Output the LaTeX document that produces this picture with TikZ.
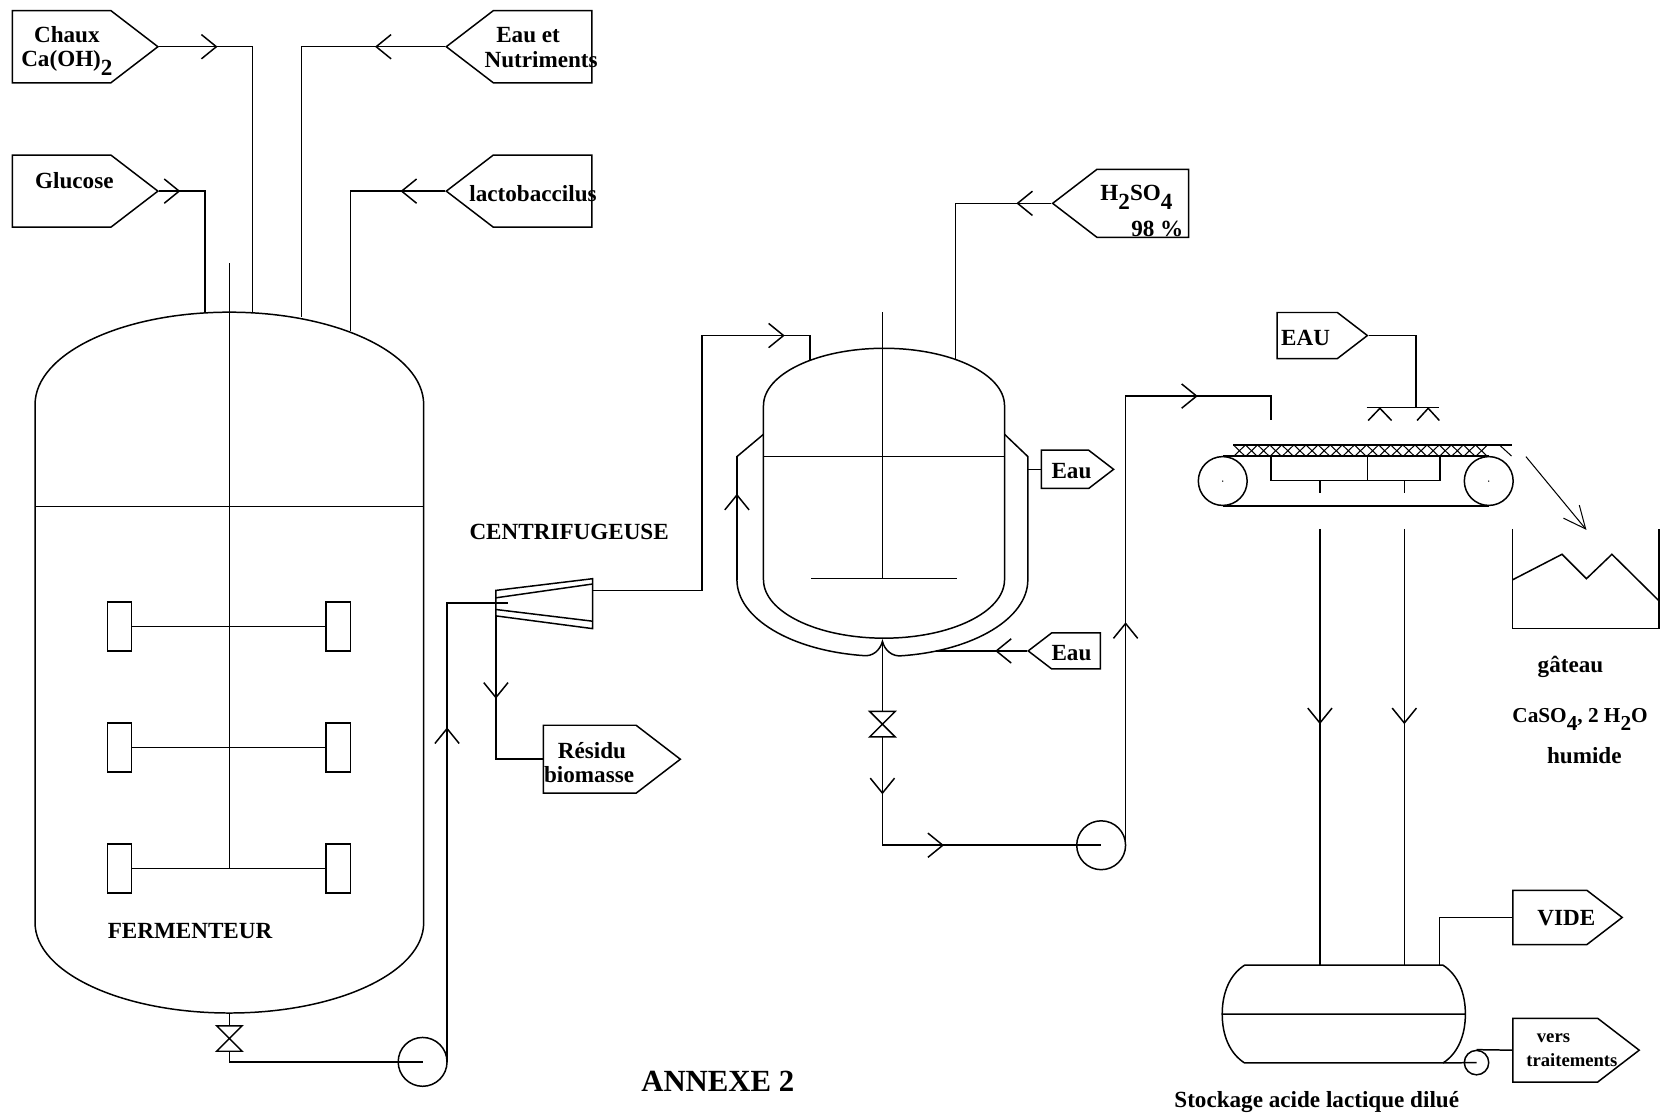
\documentclass[tikz,border=0pt]{standalone}
\usepackage{fontspec}
\setmainfont{Liberation Serif}
\usetikzlibrary{arrows.meta,shapes.symbols,decorations.markings}
\newcommand{\pxu}{0.02cm}
\newcommand{\dn}[1]{\smash{\raisebox{-.38em}{#1}}}
\tikzset{
  pipe/.style={line width=0.8pt},
  thinpipe/.style={line width=0.55pt},
  flowat/.style={decoration={markings,mark=at position #1*\pxu with {\arrow{Straight Barb[length=8pt,width=13pt]}}},postaction={decorate}},
  flowtwo/.style 2 args={decoration={markings,
      mark=at position #1*\pxu with {\arrow{Straight Barb[length=8pt,width=13pt]}},
      mark=at position #2*\pxu with {\arrow{Straight Barb[length=8pt,width=13pt]}}},postaction={decorate}},
  tag/.style 2 args={draw, pipe, shape=signal, signal from=nowhere, signal pointer angle=75,
              inner sep=0pt, minimum width=#1*\pxu, minimum height=#2*\pxu},
  tagout/.style 2 args={tag={#1}{#2}, signal to=east, anchor=west},
  tagin/.style 2 args={tag={#1}{#2}, signal to=west, anchor=east},
  txt/.style={font=\fontsize{12.4}{13.2}\selectfont\bfseries, inner sep=0pt, align=center},
  txtleft/.style={txt, align=left, anchor=west},
  smalltxt/.style={txtleft, font=\fontsize{10}{13}\selectfont\bfseries},
  pump/.style={draw, pipe, circle, inner sep=0pt, minimum size=#1*\pxu},
  valve/.pic={
    \draw[pipe] (-12,-12) -- (12,-12) -- (-12,12) -- (12,12) -- cycle;
    \coordinate (-top) at (0,-12);
    \coordinate (-bot) at (0,12);
  },
}
\begin{document}
\begin{tikzpicture}[x=\pxu,y=-\pxu]
  \useasboundingbox (0,0) rectangle (1568,1053);

  \draw[pipe] (33,869) -- (33,381) arc[start angle=180,end angle=360,x radius=183,y radius=87]
    -- (399,869) arc[start angle=0,end angle=180,x radius=183,y radius=85];
  \draw[pipe] (33,477) -- (399,477);
  \draw[pipe] (216,248) -- (216,818);
  \foreach \y in {590,704,818} {
    \draw[pipe] (101,\y-23) rectangle (124,\y+23);
    \draw[pipe] (307,\y-23) rectangle (330,\y+23);
    \draw[pipe] (124,\y) -- (307,\y);
  }
  \coordinate (fermA) at (193,294);
  \coordinate (fermB) at (238,294);
  \coordinate (fermC) at (284,299);
  \coordinate (fermD) at (330,312);
  \coordinate (fermE) at (216,954);

  \node[tagout={137}{68}] (chaux) at (11,44) {};
  \node[tagin={137}{68}] (nutri) at (558,44) {};
  \node[tagout={137}{68}] (glucose) at (11,180) {};
  \node[tagin={137}{68}] (lacto) at (558,180) {};
  \node[txt] (tchaux) at (63,46) {Chaux\\Ca(OH)\dn{2}};
  \node[txtleft] (tnutri) at (456,45) {\hspace*{.22cm}Eau et\\Nutriments};
  \node[txt] (tglucose) at (70,170) {Glucose};
  \node[txt] (tlacto) at (502,182) {lactobaccilus};

  \draw[pipe,flowat=55] (chaux.east) -| (fermB);
  \draw[pipe,flowat=66] (nutri.west) -| (fermC);
  \draw[pipe,flowat=20] (glucose.east) -| (fermA);
  \draw[pipe,flowat=42] (lacto.west) -| (fermD);

  \pic (valveA) at (216,978) {valve};
  \node[pump=46] (pumpA) at (398,1000) {};
  \draw[pipe] (fermE) -- (valveA-top);
  \draw[pipe] (valveA-bot) |- (pumpA.center);

  \coordinate (cfIn) at (478,568);
  \coordinate (cfOut) at (558,556);
  \coordinate (cfLow) at (467,580);
  \draw[pipe] (467,556) -- (558,545) -- (558,592) -- (467,580) -- cycle;
  \draw[pipe] (467,563) -- (558,550);
  \draw[pipe] (467,574) -- (558,585);
  \draw[pipe,flowat=315] (421,1000) |- (cfIn);
  \node[tagout={129}{64}] (residu) at (511,715) {};
  \node[txtleft] (tresidu) at (512,718) {\hspace*{.26cm}Résidu\\biomasse};
  \draw[pipe,flowat=78] (cfLow) |- (residu.west);
  \node[txt] (tcentri) at (536,501) {CENTRIFUGEUSE};

  \draw[pipe] (719,546) -- (719,382) arc[start angle=180,end angle=360,x radius=113.5,y radius=54]
    -- (946,546) arc[start angle=0,end angle=180,x radius=113.5,y radius=55];
  \draw[pipe] (719,430) -- (946,430);
  \draw[pipe] (831,294) -- (831,545);
  \draw[pipe] (764,545) -- (901,545);
  \draw[pipe] (719,409) -- (694,430) -- (694,546) arc[start angle=180,end angle=98,x radius=137,y radius=72]
    .. controls (822,619) and (829,612) .. (831,604)
    .. controls (833,612) and (840,619) .. (850,617.5)
    arc[start angle=82,end angle=0,x radius=137,y radius=72] -- (968,430) -- (946,409);
  \draw[pipe,flowat=81] (694,546) -- (694,430);
  \coordinate (reacIn) at (763,339);
  \coordinate (reacAcid) at (900,339);
  \coordinate (jackOut) at (968,442);
  \coordinate (jackIn) at (881,613);
  \coordinate (reacBot) at (831,604);

  \draw[pipe,flowat=421] (cfOut) -| (661,316) -| (reacIn);
  \node[tagin={128}{64}] (acid) at (1120,191.5) {};
  \node[txtleft] (tacid) at (1036,199) {H\dn{2}SO\dn{4}\\[.22cm]\hspace*{.58cm}98 \%};
  \draw[pipe,flowat=33] (acid.west) -| (reacAcid);
  \node[tagout={68}{36}] (eauOut) at (980,442) {};
  \node[txt] (teauOut) at (1009,444) {Eau};
  \draw[pipe] (jackOut) -- (eauOut.west);
  \node[tagin={68}{34}] (eauIn) at (1037,613) {};
  \node[txt] (teauIn) at (1009,615) {Eau};
  \draw[pipe,flowat=30] (eauIn.west) -- (jackIn);

  \pic (valveB) at (831,682) {valve};
  \node[pump=46] (pumpB) at (1037,796) {};
  \draw[pipe] (reacBot) -- (valveB-top);
  \draw[pipe,flowat=54] (valveB-bot) -- (831,796) coordinate (bendB);
  \draw[pipe,flowat=58] (bendB) -- (pumpB.center);

  \coordinate (beltIn) at (1197,395.5);
  \draw[pipe,flowtwo={210}{491}] (1060,796) -- (1060,373) -| (beltIn);

  \node[pump=46] (rollL) at (1151.5,453) {};
  \node[pump=46] (rollR) at (1402,453) {};
  \fill (rollL) circle (0.7);
  \fill (rollR) circle (0.7);
  \draw[pipe] (rollL.north) -- (rollR.north);
  \draw[pipe] (rollL.south) -- (rollR.south);
  \draw[pipe] (1161.5,419) -- (1423.5,419);
  \foreach \x in {1161.5,1172.9,...,1400} {
    \draw[thinpipe] (\x,419) -- ++(11.4,11) (\x+11.4,419) -- ++(-11.4,11);
  }
  \draw[thinpipe] (1412,419) -- (1423.5,429.5);
  \draw[pipe] (1197,430) -- (1197,452.3) -- (1356,452.3) -- (1356,430);
  \draw[pipe] (1287.6,430) -- (1287.6,452.3);
  \draw[pipe] (1243,452.3) -- (1243,464);
  \draw[pipe] (1322.5,452.3) -- (1322.5,464);

  \node[tagout={85}{43.4}] (eauSpray) at (1202,316) {};
  \node[txt] (teauSpray) at (1229.5,318) {EAU};
  \coordinate (sprayTop) at (1333.5,384);
  \draw[pipe] (eauSpray.east) -| (sprayTop);
  \draw[pipe] (1287,384) -- (1355.5,384);
  \draw[pipe] (1288.5,396) -- (1299.5,384.5) -- (1310.5,396);
  \draw[pipe] (1334.5,396) -- (1345,384.5) -- (1355.5,396);

  \coordinate (cakeFrom) at (1437,430);
  \coordinate (cakeTo) at (1494,499);
  \draw[thinpipe,-{Straight Barb[length=12pt,width=11pt]}] (cakeFrom) -- (cakeTo);
  \draw[pipe] (1424.5,498) -- (1424.5,592) -- (1562.5,592) -- (1562.5,498);
  \draw[pipe] (1424.5,546) -- (1471,522) -- (1494,545) -- (1518,522) -- (1562.5,566);
  \node[txt] (tcakeA) at (1479,628) {gâteau};
  \node[txt,font=\fontsize{11.4}{13}\selectfont\bfseries] (tcakeB) at (1488,675) {CaSO\dn{4}, 2 H\dn{2}O};
  \node[txt] (tcakeC) at (1492,712) {humide};

  \draw[pipe] (1151,955) .. controls (1151,935) and (1158,918) .. (1172,909) -- (1359,909)
    .. controls (1373,918) and (1380,935) .. (1380,955)
    .. controls (1380,975) and (1373,992) .. (1359,1001) -- (1172,1001)
    .. controls (1158,992) and (1151,975) .. (1151,955) -- (1380,955);
  \coordinate (drainA) at (1243,498);
  \coordinate (drainB) at (1322.5,498);
  \coordinate (tankA) at (1243,909);
  \coordinate (tankB) at (1322.5,909);
  \coordinate (tankC) at (1355.5,909);
  \coordinate (tankD) at (1359,1001);
  \draw[pipe,flowat=184] (drainA) -- (tankA);
  \draw[pipe,flowat=184] (drainB) -- (tankB);
  \node[tagout={103}{51}] (vide) at (1424,864) {};
  \node[txt] (tvide) at (1475,865) {VIDE};
  \draw[pipe] (vide.west) -| (tankC);
  \node[tagout={119}{60}] (vers) at (1424,989) {};
  \node[smalltxt] (tvers) at (1437,989) {\hspace*{.2cm}vers\\traitements};
  \node[pump=23] (pumpC) at (1390.5,1000.7) {};
  \draw[pipe] (tankD) -- (pumpC.center);
  \draw[pipe] (pumpC.north) -- (vers.west);
  \node[txt] (tstock) at (1240,1038) {Stockage acide lactique dilué};

  \node[txt] (tferm) at (179,877) {FERMENTEUR};
  \node[txt,font=\fontsize{16.5}{18}\selectfont\bfseries] (tannexe) at (676,1018) {ANNEXE 2};
\end{tikzpicture}
\end{document}
